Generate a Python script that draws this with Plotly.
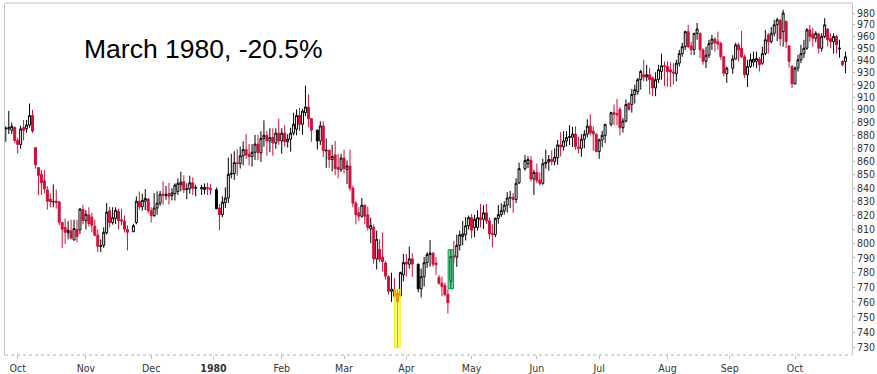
import math
import pandas as pd
import plotly.graph_objects as go

# ---------------- data (DJIA daily OHLC) ----------------
first_day = "1979-09-25"
last_day = "1980-10-24"
holidays = ["1979-11-22", "1979-12-25", "1980-01-01", "1980-02-18",
            "1980-04-04", "1980-05-26", "1980-07-04", "1980-09-01"]

# (open, high, low, close)
sep79 = [(885, 887, 875, 885.5), (885, 899, 881, 886), (884, 890, 881, 887), (886, 887, 874, 876)]
oct79 = [(876, 878, 866, 873), (873, 887.5, 869.6, 885), (886, 892, 876, 884), (885, 892, 882, 888),
         (888, 905, 886, 895.5), (895.6, 900, 881.7, 883.4), (870.5, 870.5, 854.6, 857.5),
         (855.4, 855.5, 835, 849.5), (850.3, 853.8, 835, 844), (845.5, 853.8, 836.4, 839.5),
         (838.8, 841.6, 824.3, 830.4), (832, 836, 826, 830), (830, 842.8, 826, 830.2),
         (830.5, 839, 825, 829.5), (830, 830.5, 813, 815.2), (815, 815.5, 796.8, 810.2),
         (811.5, 817.8, 799.8, 808), (807.7, 816, 803, 809.4), (809, 817, 803, 804),
         (802.6, 817, 802.3, 810.7), (810, 817, 801, 805), (809.8, 825.3, 806.8, 824.8),
         (824.3, 827.8, 813.7, 816.5)]
nov79 = [(816.5, 824, 810, 821), (820.5, 826, 812, 814.3), (818.9, 822, 808, 813), (812.4, 817, 805, 806),
         (806, 810, 794, 798), (798, 803, 794, 798.5), (798.8, 811.5, 797, 808), (807.7, 829.1, 806.5, 822.5),
         (823.5, 826.4, 811.5, 815), (815, 826, 813.5, 818.5), (818, 826, 814, 823.8), (823, 825, 810, 816.5),
         (817, 825, 813, 816), (816, 820, 808, 810.2), (810, 813, 795.2, 808), (808.5, 814, 808, 812.7),
         (815, 834, 813.7, 830.4), (830.4, 837.6, 824.3, 826.4), (826.4, 836, 823.5, 831),
         (830.4, 839.3, 824, 832.5), (832, 832.5, 821.5, 823.5)]
dec79 = [(823.5, 826, 815, 820), (820, 836.4, 819, 825.5), (825.5, 837.7, 820.7, 829), (829, 838, 827, 835.6),
         (835.6, 845, 827.8, 834.6), (834.5, 841.6, 831.5, 835.5), (836, 844, 828, 834), (834.5, 840, 831, 836.5),
         (836, 843.6, 831, 842.3), (837.6, 847.3, 835, 843.6), (842.5, 852.3, 837.6, 844.5),
         (844.8, 849.7, 836.4, 838.8), (838.8, 843.6, 831.8, 839.5), (839.5, 849.3, 836, 844),
         (844, 848, 835, 840), (840, 842.5, 834, 840.3), (839.5, 842.5, 835, 840.5), (839, 843.6, 835.5, 840.6),
         (840.5, 844, 835, 839.7), (839.8, 843, 835, 838.7)]
jan80 = [(838.8, 840.5, 824.5, 825), (825.5, 828.4, 809.5, 820.7), (820.7, 834, 818.9, 829.8),
         (829.5, 840.6, 825.5, 832.8), (832.8, 863, 829, 850.3), (850.3, 865.8, 847.3, 851),
         (850.8, 867.8, 846, 859.1), (859, 869.2, 849.3, 858.4), (858.5, 871.3, 854.6, 864.3),
         (864.3, 875.3, 857, 869), (869, 880.9, 862, 864.9), (865.5, 873.3, 857, 863.8), (863.8, 873.3, 856, 867),
         (867, 880.3, 861.2, 873.3), (873.3, 880.3, 861, 866.6), (866.6, 883.3, 859.5, 877.6),
         (877.6, 891.7, 871.3, 880), (880, 883.5, 864.4, 875.7), (875.7, 885.5, 867, 878.3),
         (878.3, 885.5, 864.4, 874), (874, 885.5, 869.6, 881.7), (881.7, 893, 872.6, 875.7)]
feb80 = [(875.7, 885.5, 865.8, 881.7), (881.7, 887.9, 871.3, 875), (875, 880.9, 870.5, 877.1),
         (877, 885.9, 867.5, 881.7), (881.7, 897.7, 880, 888.6), (884.8, 900.3, 880, 895.6),
         (895.6, 901.6, 883.4, 888.6), (888.6, 900.8, 880.5, 899), (897.7, 919.3, 895, 902.2),
         (902.2, 912.2, 886.3, 893), (893, 893.5, 875, 884), (884, 884.5, 869, 875.7), (875.7, 891, 872.6, 887.3),
         (887.3, 891, 863.3, 868.3), (868, 877.6, 855.2, 868.5), (868.5, 869, 855.2, 861.5),
         (861.5, 872.6, 852.6, 863.8), (865, 875.7, 849.7, 854.6), (855.5, 865.8, 847.3, 854),
         (854, 865.8, 852.1, 862.6)]
mar80 = [(862.6, 869, 851, 854.6), (854, 860.8, 843, 856.6), (856.6, 869, 838, 840), (840, 842, 826, 829),
         (829, 830.5, 813.7, 820.6), (822, 826, 816, 819.5), (819.5, 832.8, 818.5, 827.5),
         (827.5, 828, 813.7, 819.5), (820.5, 826.4, 809.2, 811.5), (810.5, 818.5, 800.3, 812.8),
         (811.5, 813.7, 786, 789.3), (789.3, 809.2, 782, 803), (796, 803, 787, 789), (790.6, 808, 780.4, 787.5),
         (786.5, 788, 775, 777.4), (777, 778, 765, 767.1), (767.1, 779.8, 760, 768.6), (768.2, 775.9, 762, 763.8),
         (766, 768.4, 730, 760), (764.2, 780.5, 763.5, 779.8), (778.3, 792.8, 773.8, 786.7)]
apr80 = [(787.2, 792.8, 777.1, 785.7), (785.7, 798, 782.6, 789.3), (789.3, 793.3, 777, 785.7),
         (785.6, 786, 766.4, 768.8), (768.8, 782.6, 763, 777.1), (777.1, 790.6, 770.4, 786.7),
         (786.7, 794, 783, 792.4), (792.4, 802.5, 783.8, 793.3), (793.3, 794, 784, 785.6),
         (786.5, 790.6, 778.3, 785.2), (776.4, 778.3, 771.6, 772.6), (772.6, 777.1, 763.8, 770.4),
         (770.9, 773, 763.8, 764.9), (764.9, 768.4, 752.3, 759.5), (773.8, 795.7, 768.8, 791),
         (791.5, 802, 786.5, 790.3), (790.6, 806.3, 783.8, 798.8), (798.8, 809.2, 795.2, 806.3),
         (805, 816.1, 798.8, 806.8), (806.3, 819, 802.2, 812.7), (812.7, 820, 810, 818.5)]
may80 = [(818.5, 821.2, 803.6, 809.5), (811.5, 820.7, 804.5, 817.3), (811.5, 823.8, 809.2, 818.5),
         (818.5, 828.4, 811.5, 817), (817.3, 827.5, 810.4, 822), (822, 828.4, 814, 816.2),
         (816.2, 818.5, 803, 806.8), (807.3, 813.7, 797.5, 806.5), (806.5, 818.5, 804.5, 818),
         (818, 827.8, 814.2, 820.7), (820.7, 829, 818.9, 823.5), (823.3, 830.4, 820.7, 827.5),
         (827.5, 837, 822, 832.8), (832.8, 838, 825.5, 833.2), (833.3, 836.4, 822, 831.7),
         (831.7, 847.3, 829, 843.6), (844, 859.1, 843, 854.6), (854.6, 864.9, 853, 860.8),
         (858.3, 864, 855, 861.5), (860.8, 864, 845, 846.8), (846.8, 853.8, 835, 851.7)]
jun80 = [(851.7, 858.3, 843.6, 845.5), (846, 851.7, 842, 843.6), (843.6, 862, 842.5, 858.3),
         (858.3, 869, 854.6, 859.5), (859.5, 864.9, 853, 861.5), (861.7, 868.4, 857, 860),
         (860, 870, 857, 863.3), (862.8, 876.4, 857.5, 872.6), (872.6, 882.5, 863.8, 871),
         (871.2, 883.3, 868.3, 875.7), (875.7, 883.3, 871.3, 878.3), (878.3, 887.8, 872.5, 879),
         (878.5, 886.5, 871, 881), (881, 887, 869, 871.3), (871, 879, 866, 870), (870, 881, 863.5, 877),
         (877, 884, 870, 880.9), (880.9, 892.5, 878.3, 887.2), (887.2, 896.4, 880, 882),
         (883.3, 887, 868.3, 881), (880.9, 881.5, 867, 867.5)]
jul80 = [(867.5, 877.5, 862, 876.5), (876.5, 883.5, 871, 880), (880, 889, 874, 888.6),
         (888.6, 898.5, 887, 897.7), (897.7, 904.2, 888, 896.5), (897, 908.7, 888, 896),
         (900.3, 902, 880, 885.9), (885.9, 893.5, 882.1, 891.1), (891.1, 908.2, 890, 904.2),
         (905, 906, 899.5, 900.3), (904.2, 916.7, 897.7, 912.2), (912.2, 920.2, 905, 916.1),
         (914.6, 925.5, 912, 924.2), (924.2, 932.3, 916.1, 930.9), (928.2, 940.5, 922.8, 926.3),
         (926.3, 936.4, 922.8, 928.2), (928.2, 933.6, 912.2, 924.2), (925.7, 926.8, 910.8, 917.5),
         (917.5, 930.1, 910.8, 924.2), (924.2, 936.4, 921.6, 932.3), (930.9, 945.6, 924.2, 935.6),
         (935.6, 939.2, 919, 935)]
aug80 = [(935, 939.2, 918.3, 930.9), (932.3, 938.4, 918.3, 930.5), (930.5, 937.7, 920.2, 929.5),
         (929, 940.5, 922.8, 937.7), (937.7, 948.8, 935, 945.6), (945.6, 954.7, 943, 951.4),
         (951.4, 964.9, 948.8, 964.1), (964.1, 969.9, 950.1, 951.4), (952, 955.6, 944.3, 948.8),
         (948.8, 963, 944.3, 962.7), (962.7, 971.5, 957.2, 966.3), (962.7, 963, 942, 948.8),
         (948.8, 950.1, 936.4, 939.2), (939.2, 951.4, 933.6, 944.3), (944.3, 957.2, 941.9, 954.1),
         (954.1, 961.4, 948.8, 957.8), (957.8, 959.4, 947.3, 954.7), (955.6, 964.1, 948.8, 953.6),
         (954.1, 955.6, 940.5, 943), (943, 943.5, 926.8, 929.5), (929, 935, 921.6, 933.6)]
sep80 = [(933.6, 944.3, 929, 941.1), (941.1, 954.7, 940.5, 952.9), (952.9, 954.7, 939.2, 948.8),
         (950.1, 964.7, 941.9, 943), (943, 945, 925.7, 928.2), (928.2, 940.5, 918.3, 935),
         (935, 945.6, 933.6, 940.5), (938.5, 947.3, 935, 941), (939, 947.3, 933.6, 941.5),
         (941, 943, 930.9, 936.4), (937.7, 951.4, 936.4, 945.6), (945.6, 965.6, 944.3, 957.2),
         (961.4, 962.7, 945.6, 955.6), (955.6, 968, 954.1, 962.7), (962.7, 974.2, 960, 969.9),
         (969.9, 976, 956, 974.2), (973.6, 975, 952, 958), (964.1, 982.8, 951.4, 980),
         (972.8, 973.5, 950.1, 955.6), (952, 952.5, 934.1, 939.2), (935, 936, 917.5, 920.8)]
oct80 = [(920.8, 935, 920.2, 933.6), (933.6, 944.7, 930.9, 940.5), (940.5, 953, 937.7, 945.6),
         (945.6, 957.2, 941.9, 950.1), (950.1, 967.2, 948.8, 965.6), (965.6, 969.9, 955.6, 960),
         (962, 967.2, 951.4, 958.5), (958.5, 964.5, 955, 962.7), (962, 963, 945.6, 950.1),
         (950.1, 962.7, 947.3, 960), (960, 975.6, 958.5, 969.9), (966.3, 967, 951.4, 957.2),
         (958.5, 962.7, 950, 955.6), (955.6, 962.7, 945.6, 960), (960, 961.4, 945.6, 953),
         (949.5, 957.2, 942.2, 950.1), (939.2, 940, 935, 936.4), (939.2, 947.3, 929.5, 943)]

month_ticks = ["1979-10-01", "1979-11-01", "1979-12-03", "1980-01-01", "1980-02-01", "1980-03-03",
               "1980-04-01", "1980-05-01", "1980-06-02", "1980-07-01", "1980-08-01", "1980-09-01", "1980-10-01"]
month_labels = ["Oct", "Nov", "Dec", "<b>1980</b>", "Feb", "Mar", "Apr", "May", "Jun", "Jul", "Aug", "Sep", "Oct"]
y_ticks = list(range(730, 990, 10))

title_text = "March 1980, -20.5%"
highlight_yellow_day = "1980-03-27"
highlight_green_day = "1980-04-22"

# ---------------- build ----------------
rows = sep79 + oct79 + nov79 + dec79 + jan80 + feb80 + mar80 + apr80 + may80 + jun80 + jul80 + aug80 + sep80 + oct80
hol = set(pd.to_datetime(holidays))
dates = [d for d in pd.bdate_range(first_day, last_day) if d not in hol]
n = min(len(dates), len(rows))
dates, rows = dates[:n], rows[:n]
opens = [r[0] for r in rows]
highs = [r[1] for r in rows]
lows = [r[2] for r in rows]
closes = [r[3] for r in rows]

trading = set(dates)
black_idx, red_idx = [], []
for i, d in enumerate(dates):
    after_gap = i > 0 and (d - pd.offsets.BDay(1)) not in trading
    if closes[i] < opens[i] and not after_gap:
        red_idx.append(i)
    else:
        black_idx.append(i)

RED = "#d0103a"


def candles(idx, color, hollow_up_fill="white"):
    return go.Candlestick(
        x=[dates[i] for i in idx],
        open=[opens[i] for i in idx], high=[highs[i] for i in idx],
        low=[lows[i] for i in idx], close=[closes[i] for i in idx],
        increasing=dict(line=dict(color=color, width=1), fillcolor=hollow_up_fill),
        decreasing=dict(line=dict(color=color, width=1), fillcolor=color),
        whiskerwidth=0, showlegend=False, hoverinfo="x+y",
    )


def highlight(day, fill, line):
    i = dates.index(pd.Timestamp(day))
    d = dates[i]
    x0, x1 = d - pd.Timedelta(hours=22), d + pd.Timedelta(hours=22)
    return go.Scatter(
        x=[x0, x1, x1, x0, x0], y=[lows[i], lows[i], highs[i], highs[i], lows[i]],
        mode="lines", fill="toself", fillcolor=fill,
        line=dict(color=line, width=1), showlegend=False, hoverinfo="skip",
    )


fig = go.Figure()
fig.add_trace(candles(black_idx, "black"))
fig.add_trace(candles(red_idx, RED))
fig.add_trace(highlight(highlight_yellow_day, "rgba(255,255,0,0.55)", "#f0f000"))
fig.add_trace(highlight(highlight_green_day, "rgba(0,175,80,0.55)", "#00a04a"))

shapes = [
    # top border (solid) and bottom border (dotted)
    dict(type="line", xref="paper", yref="paper", x0=0, x1=1, y0=1, y1=1,
         line=dict(color="#c4c4c4", width=1)),
    dict(type="line", xref="paper", yref="paper", x0=0, x1=1, y0=0, y1=0,
         line=dict(color="#b0b0b0", width=1, dash="dot")),
]

FONT_NARROW = "Liberation Sans Narrow, Arial Narrow, DejaVu Sans Condensed, sans-serif"

fig.update_layout(
    width=877, height=374,
    margin=dict(l=5, r=25, t=3, b=19, autoexpand=False),
    paper_bgcolor="white", plot_bgcolor="white",
    boxgap=0.05,
    showlegend=False,
    shapes=shapes,
    annotations=[dict(text=title_text, xref="paper", yref="paper", x=0.0905, y=0.868,
                      xanchor="left", yanchor="middle", showarrow=False,
                      font=dict(family="Liberation Sans, Arial, sans-serif", size=26.5, color="black"))],
    xaxis=dict(
        type="date",
        rangebreaks=[dict(bounds=["sat", "mon"])],
        range=["1979-09-24 17:30", "1980-10-28 05:00"],
        rangeslider=dict(visible=False),
        tickmode="array", tickvals=month_ticks, ticktext=month_labels,
        ticks="outside", ticklen=3, tickcolor="#b8b8b8",
        tickfont=dict(family=FONT_NARROW, size=10.5, color="#333333"),
        showgrid=False, zeroline=False, showline=False,
    ),
    yaxis=dict(
        type="log", side="right",
        range=[math.log10(725.3), math.log10(988.7)],
        tickmode="array", tickvals=y_ticks, ticktext=[str(v) for v in y_ticks],
        ticks="outside", ticklen=2, tickcolor="#b8b8b8",
        tickfont=dict(family=FONT_NARROW, size=10.5, color="#333333"),
        showgrid=False, zeroline=False,
        showline=True, mirror=True, linecolor="#c4c4c4", linewidth=1,
    ),
)

fig.write_html("out.html", config={"displayModeBar": False},
               post_script="document.body.style.margin='0';document.body.style.padding='0';")
